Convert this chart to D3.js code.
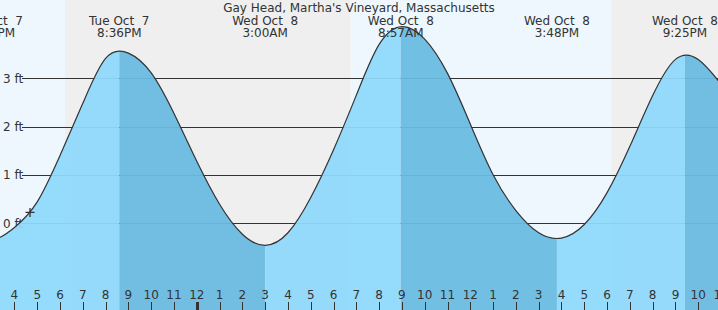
<!DOCTYPE html>
<html>
<head>
<meta charset="utf-8">
<script src="https://cdn.jsdelivr.net/npm/d3@7"></script>
<style>
  body { margin: 0; background: #fff; }
  svg { display: block; font-family: "DejaVu Sans", sans-serif; }
  text { white-space: pre; fill: #333; }
</style>
</head>
<body>
<div id="chart"></div>
<script>
const title = "Gay Head, Martha's Vineyard, Massachusetts"

// hourly predicted height (ft)
const times = [
    "2025-10-07T14:00", "2025-10-07T15:00", "2025-10-07T16:00", "2025-10-07T17:00",
    "2025-10-07T18:00", "2025-10-07T19:00", "2025-10-07T20:00", "2025-10-07T21:00",
    "2025-10-07T22:00", "2025-10-07T23:00", "2025-10-08T00:00", "2025-10-08T01:00",
    "2025-10-08T02:00", "2025-10-08T03:00", "2025-10-08T04:00", "2025-10-08T05:00",
    "2025-10-08T06:00", "2025-10-08T07:00", "2025-10-08T08:00", "2025-10-08T09:00",
    "2025-10-08T10:00", "2025-10-08T11:00", "2025-10-08T12:00", "2025-10-08T13:00",
    "2025-10-08T14:00", "2025-10-08T15:00", "2025-10-08T16:00", "2025-10-08T17:00",
    "2025-10-08T18:00", "2025-10-08T19:00", "2025-10-08T20:00", "2025-10-08T21:00",
    "2025-10-08T22:00", "2025-10-08T23:00"
]
const heights = [
    -0.28, -0.36, -0.09, 0.44,
    1.40, 2.48, 3.41, 3.52,
    3.11, 2.27, 1.28, 0.39,
    -0.23, -0.46, -0.20, 0.53,
    1.52, 2.65, 3.70, 4.07,
    3.81, 3.10, 2.05, 1.00,
    0.26, -0.20, -0.31, -0.03,
    0.63, 1.59, 2.64, 3.39,
    3.39, 2.88
]

// high / low tides
const extremeTimes = ["2025-10-07T15:03", "2025-10-07T20:36", "2025-10-08T03:00",
                      "2025-10-08T08:57", "2025-10-08T15:48", "2025-10-08T21:25"]

// sunset / sunrise
const sunTimes = ["2025-10-07T18:13", "2025-10-08T06:45", "2025-10-08T18:11"]

const yTicks = [0, 1, 2, 3]
const nowTime = "2025-10-07T16:41"
const nowHeight = 0.22

const parse = d3.timeParse("%Y-%m-%dT%H:%M")
const start = parse("2025-10-07T15:22"), end = parse("2025-10-08T22:52")

const width = 718, height = 310
const svg = d3.select("#chart").append("svg")
              .attr("width", width).attr("height", height)

const x = d3.scaleTime().domain([start, end]).range([0, width])
const y = d3.scaleLinear().domain([-1.8, 4.62]).range([height, 0])

const data = times.map((t, i) => ({ t: parse(t), v: heights[i] }))
const ext = extremeTimes.map(parse)
const sun = sunTimes.map(parse)

// day / night background
const bands = [start, ...sun, end]
for (let i = 0; i < bands.length - 1; i++) {
    svg.append("rect")
       .attr("x", x(bands[i])).attr("width", x(bands[i + 1]) - x(bands[i]))
       .attr("y", 0).attr("height", height)
       .attr("fill", i % 2 == 0 ? "#eef7fe" : "#efefef")
}

// grid
svg.selectAll(".grid").data(yTicks).enter().append("line")
   .attr("x1", 22).attr("x2", width)
   .attr("y1", d => Math.round(y(d)) + 0.5).attr("y2", d => Math.round(y(d)) + 0.5)
   .attr("stroke", "#333").attr("stroke-width", 1)

svg.selectAll(".ylab").data(yTicks).enter().append("text")
   .attr("x", 3).attr("y", d => y(d) + 4.5)
   .attr("font-size", 12)
   .text(d => d + " ft")

// tide area, light when rising, darker when falling
const curve = d3.curveNatural
const area = d3.area().x(d => x(d.t)).y0(height).y1(d => y(d.v)).curve(curve)
const line = d3.line().x(d => x(d.t)).y(d => y(d.v)).curve(curve)

svg.append("clipPath").attr("id", "tide")
   .append("path").datum(data).attr("d", area)

const segs = [start, ...ext.filter(d => d > start && d < end), end]
const firstRising = heights[1] < heights[2]
const g = svg.append("g").attr("clip-path", "url(#tide)")
for (let i = 0; i < segs.length - 1; i++) {
    const rising = (i % 2 == 0) == firstRising
    g.append("rect")
     .attr("x", x(segs[i])).attr("width", x(segs[i + 1]) - x(segs[i]))
     .attr("y", 0).attr("height", height)
     .attr("fill", rising ? "#8fd9fc" : "#6abbe2")
     .attr("fill-opacity", 0.94)
}

svg.append("path").datum(data)
   .attr("fill", "none").attr("stroke", "#333").attr("stroke-width", 1.2)
   .attr("d", line)

// current time marker
const nx = x(parse(nowTime)), ny = y(nowHeight)
svg.append("path")
   .attr("d", `M${nx - 4.5},${ny}H${nx + 4.5}M${nx},${ny - 4.5}V${ny + 4.5}`)
   .attr("stroke", "#333").attr("stroke-width", 1.3)

// hour axis
const hours = d3.timeHour.every(1).range(start, d3.timeHour.offset(end, 1))
svg.selectAll(".tick").data(hours).enter().append("line")
   .attr("x1", d => Math.round(x(d)) + 0.5).attr("x2", d => Math.round(x(d)) + 0.5)
   .attr("y1", 302).attr("y2", height)
   .attr("stroke", "#333")
   .attr("stroke-width", d => d.getHours() == 0 ? 3 : 1)

svg.selectAll(".hlab").data(hours).enter().append("text")
   .attr("x", d => x(d)).attr("y", 299)
   .attr("text-anchor", "middle").attr("font-size", 12)
   .text(d3.timeFormat("%-I"))

// high / low labels
const fDay = d3.timeFormat("%a %b %e"), fTime = d3.timeFormat("%-I:%M%p")
const labs = svg.selectAll(".ext").data(ext).enter().append("g")
labs.append("text").attr("x", d => x(d)).attr("y", 25)
    .attr("text-anchor", "middle").attr("font-size", 12).text(fDay)
labs.append("text").attr("x", d => x(d)).attr("y", 37)
    .attr("text-anchor", "middle").attr("font-size", 12).text(fTime)

svg.append("text").attr("x", 359).attr("y", 12)
   .attr("text-anchor", "middle").attr("font-size", 12)
   .text(title)
</script>
</body>
</html>
